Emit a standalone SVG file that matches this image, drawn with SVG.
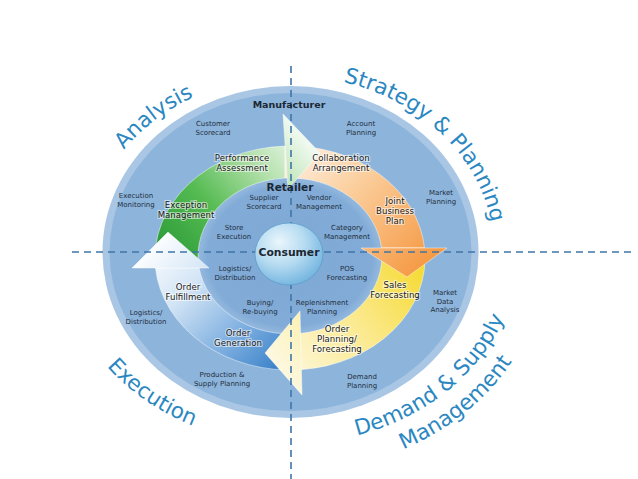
<svg xmlns="http://www.w3.org/2000/svg" width="638" height="479" viewBox="0 0 638 479">
<defs>
<radialGradient id="innerG" cx="290" cy="256" r="92" gradientUnits="userSpaceOnUse" gradientTransform="translate(290 256) scale(1 0.85) translate(-290 -256)">
<stop offset="0" stop-color="#7fa9d5"/>
<stop offset="0.9" stop-color="#82acd7"/>
<stop offset="1" stop-color="#95b9de"/>
</radialGradient>
<radialGradient id="consG" cx="0.4" cy="0.35" r="0.7" fx="0.35" fy="0.3">
<stop offset="0" stop-color="#eaf6fc"/>
<stop offset="0.5" stop-color="#b7dcf1"/>
<stop offset="1" stop-color="#6fb2de"/>
</radialGradient>
<linearGradient id="gGreen" gradientUnits="userSpaceOnUse" x1="170" y1="255" x2="305" y2="140">
<stop offset="0" stop-color="#2f9e3a"/>
<stop offset="0.35" stop-color="#55bb52"/>
<stop offset="0.7" stop-color="#b2e0aa"/>
<stop offset="1" stop-color="#f0f9ef"/>
</linearGradient>
<linearGradient id="gOrange" gradientUnits="userSpaceOnUse" x1="290" y1="150" x2="420" y2="270">
<stop offset="0" stop-color="#fdf1e4"/>
<stop offset="0.4" stop-color="#fbcf9e"/>
<stop offset="1" stop-color="#f59a45"/>
</linearGradient>
<linearGradient id="gYellow" gradientUnits="userSpaceOnUse" x1="425" y1="255" x2="275" y2="360">
<stop offset="0" stop-color="#f5d92a"/>
<stop offset="0.5" stop-color="#fbe98c"/>
<stop offset="1" stop-color="#fdf8de"/>
</linearGradient>
<linearGradient id="gBlue" gradientUnits="userSpaceOnUse" x1="295" y1="368" x2="165" y2="235">
<stop offset="0" stop-color="#2c78c4"/>
<stop offset="0.35" stop-color="#7eafe0"/>
<stop offset="0.7" stop-color="#d2e4f5"/>
<stop offset="1" stop-color="#fbfdff"/>
</linearGradient>
<path id="arcTop" d="M86,252 A204,176 0 0 1 494,252"/>
<path id="arcBot" d="M62,252 A228,192 0 0 0 518,252"/>
<path id="arcBot2" d="M34,252 A256,220 0 0 0 546,252"/>
<style>
.big{font-family:"DejaVu Sans",Verdana,sans-serif;font-size:21.5px;fill:#2b87c1;}
.sm{font-family:"DejaVu Sans",Verdana,sans-serif;font-size:7px;fill:#1f2d3d;text-anchor:middle;}
.lb{font-family:"DejaVu Sans",Verdana,sans-serif;font-size:8.6px;fill:#1a1a1a;text-anchor:middle;stroke:#ffffff;stroke-width:2.2px;stroke-opacity:0.55;paint-order:stroke;}
.hd{font-family:"DejaVu Sans",Verdana,sans-serif;font-weight:bold;fill:#1c2733;text-anchor:middle;}
.arr{stroke:#ffffff;stroke-opacity:0.45;stroke-width:1;}
.dash{stroke:#3f76a8;stroke-width:1.6;stroke-dasharray:7 5;fill:none;}
</style>
</defs>
<rect width="638" height="479" fill="#ffffff"/>
<g id="disc">
<ellipse cx="290.5" cy="252" rx="188" ry="166" fill="#a9c7e4"/>
<ellipse cx="290.5" cy="252" rx="181" ry="159" fill="#8db5db"/>
<ellipse cx="290" cy="256" rx="92" ry="78" fill="url(#innerG)"/>
</g>
<g id="connectors">
<path class="arr" fill="url(#gGreen)" d="M155.5,268 A135,112 0 0 1 285,146.1 L285,178.1 A92,78 0 0 0 199.1,268 Z"/>
<path class="arr" fill="url(#gOrange)" d="M285,146.1 A135,112 0 0 1 424.5,248 L381.5,248 A92,78 0 0 0 285,178.1 Z"/>
<path class="arr" fill="url(#gYellow)" d="M424.5,248 A135,112 0 0 1 300,369.7 L300,333.5 A92,78 0 0 0 381.5,248 Z"/>
<path class="arr" fill="url(#gBlue)" d="M300,369.7 A135,112 0 0 1 155.5,268 L199.1,268 A92,78 0 0 0 300,333.5 Z"/>
<polygon class="arr" fill="url(#gGreen)" points="283,114 320,153 288,189"/>
<polygon class="arr" fill="url(#gOrange)" points="447,248 407,277 361,248"/>
<polygon class="arr" fill="url(#gYellow)" points="300,311 302,395 265,353"/>
<polygon class="arr" fill="url(#gBlue)" points="132,268 168,232 209,268"/>
</g>
<g id="axes">
<line class="dash" x1="72" y1="252" x2="634" y2="252"/>
<line class="dash" x1="291" y1="66" x2="291" y2="479"/>
</g>
<g id="consumer">
<ellipse cx="289" cy="254" rx="34" ry="31" fill="url(#consG)" stroke="#5d9dca" stroke-width="0.8"/>
<text class="hd" x="289" y="256" font-size="10.8">Consumer</text>
</g>
<g id="headers">
<text class="hd" x="289" y="108" font-size="9.5">Manufacturer</text>
<text class="hd" x="290" y="191" font-size="10.5">Retailer</text>
</g>
<g id="quadrants">
<text class="big" text-anchor="middle"><textPath href="#arcTop" startOffset="26%">Analysis</textPath></text>
<text class="big" text-anchor="middle"><textPath href="#arcTop" startOffset="77%">Strategy &amp; Planning</textPath></text>
<text class="big" text-anchor="middle"><textPath href="#arcBot" startOffset="27%">Execution</textPath></text>
<text class="big" text-anchor="middle"><textPath href="#arcBot" startOffset="75%">Demand &amp; Supply</textPath></text>
<text class="big" text-anchor="middle"><textPath href="#arcBot2" startOffset="75%">Management</textPath></text>
</g>
<g id="outer-labels">
<text class="sm" x="213" y="126">Customer<tspan x="213" dy="8.7">Scorecard</tspan></text>
<text class="sm" x="361" y="126">Account<tspan x="361" dy="8.7">Planning</tspan></text>
<text class="sm" x="136" y="198">Execution<tspan x="136" dy="8.7">Monitoring</tspan></text>
<text class="sm" x="441" y="195">Market<tspan x="441" dy="8.7">Planning</tspan></text>
<text class="sm" x="146" y="315">Logistics/<tspan x="146" dy="8.7">Distribution</tspan></text>
<text class="sm" x="445" y="295">Market<tspan x="445" dy="8.7">Data</tspan><tspan x="445" dy="8.7">Analysis</tspan></text>
<text class="sm" x="222" y="377">Production &amp;<tspan x="222" dy="8.7">Supply Planning</tspan></text>
<text class="sm" x="362" y="379">Demand<tspan x="362" dy="8.7">Planning</tspan></text>
</g>
<g id="inner-labels">
<text class="sm" x="264" y="200">Supplier<tspan x="264" dy="8.7">Scorecard</tspan></text>
<text class="sm" x="319" y="200">Vendor<tspan x="319" dy="8.7">Management</tspan></text>
<text class="sm" x="234" y="230">Store<tspan x="234" dy="8.7">Execution</tspan></text>
<text class="sm" x="347" y="230">Category<tspan x="347" dy="8.7">Management</tspan></text>
<text class="sm" x="235" y="271">Logistics/<tspan x="235" dy="8.7">Distribution</tspan></text>
<text class="sm" x="347" y="271">POS<tspan x="347" dy="8.7">Forecasting</tspan></text>
<text class="sm" x="260" y="305">Buying/<tspan x="260" dy="8.7">Re-buying</tspan></text>
<text class="sm" x="322" y="305">Replenishment<tspan x="322" dy="8.7">Planning</tspan></text>
</g>
<g id="arrow-labels">
<text class="lb" x="242" y="161">Performance<tspan x="242" dy="10">Assessment</tspan></text>
<text class="lb" x="341" y="161">Collaboration<tspan x="341" dy="10">Arrangement</tspan></text>
<text class="lb" x="395" y="204">Joint<tspan x="395" dy="10">Business</tspan><tspan x="395" dy="10">Plan</tspan></text>
<text class="lb" x="395" y="288">Sales<tspan x="395" dy="10">Forecasting</tspan></text>
<text class="lb" x="337" y="332">Order<tspan x="337" dy="9.8">Planning/</tspan><tspan x="337" dy="9.8">Forecasting</tspan></text>
<text class="lb" x="238" y="336">Order<tspan x="238" dy="10">Generation</tspan></text>
<text class="lb" x="188" y="290">Order<tspan x="188" dy="10">Fulfillment</tspan></text>
<text class="lb" x="186" y="208">Exception<tspan x="186" dy="10">Management</tspan></text>
</g>
</svg>
